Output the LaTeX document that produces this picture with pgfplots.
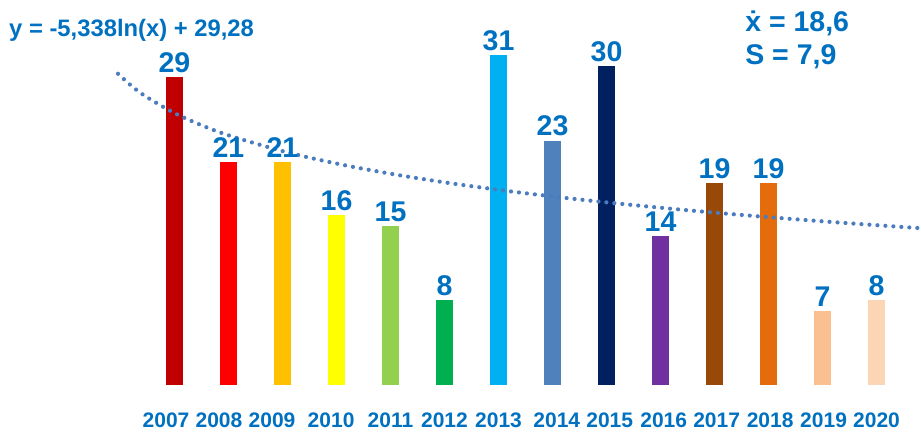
\documentclass[border=0pt]{standalone}
\usepackage{fontspec}
\setmainfont{Liberation Sans}
\usepackage{pgfplots}
\pgfplotsset{compat=1.18}

\definecolor{txtblue}{HTML}{0070C0}
\definecolor{trend}{HTML}{4A7CBE}
\definecolor{c07}{HTML}{C00000}
\definecolor{c08}{HTML}{FF0000}
\definecolor{c09}{HTML}{FFC000}
\definecolor{c10}{HTML}{FFFF00}
\definecolor{c11}{HTML}{92D050}
\definecolor{c12}{HTML}{00B050}
\definecolor{c13}{HTML}{00B0F0}
\definecolor{c14}{HTML}{4F81BD}
\definecolor{c15}{HTML}{002060}
\definecolor{c16}{HTML}{7030A0}
\definecolor{c17}{HTML}{984807}
\definecolor{c18}{HTML}{E46C0A}
\definecolor{c19}{HTML}{FAC090}
\definecolor{c20}{HTML}{FCD5B5}

\begin{document}
\begin{tikzpicture}
\path[use as bounding box] (0pt,-49pt) rectangle (921pt,385pt);
\begin{axis}[
    scale only axis,
    width=921pt, height=385pt,
    xmin=-3.2315, xmax=13.824,
    ymin=0, ymax=36.22,
    ybar, bar width=17pt, bar shift=0pt,
    axis line style={draw=none},
    major tick length=0pt,
    ytick=\empty,
    xtick={-0.157,0.824,1.806,2.9,4,5,6,7.08,8.06,9.06,10.04,11.03,12.02,13},
    xticklabels={2007,2008,2009,2010,2011,2012,2013,2014,2015,2016,2017,2018,2019,2020},
    xticklabel style={font=\fontsize{21}{21}\selectfont\bfseries, text=txtblue,
        anchor=north, inner sep=0pt, yshift=-28pt},
    nodes near coords,
    every node near coord/.append style={font=\fontsize{28.5}{28.5}\selectfont\bfseries,
        text=txtblue, anchor=south, inner sep=0pt, yshift=4pt},
    /pgf/number format/assume math mode=true,
    clip=false,
]
\addplot[fill=c07, draw=none] coordinates {(0,29)};
\addplot[fill=c08, draw=none] coordinates {(1,21)};
\addplot[fill=c09, draw=none] coordinates {(2,21)};
\addplot[fill=c10, draw=none] coordinates {(3,16)};
\addplot[fill=c11, draw=none] coordinates {(4,15)};
\addplot[fill=c12, draw=none] coordinates {(5,8)};
\addplot[fill=c13, draw=none] coordinates {(6,31)};
\addplot[fill=c14, draw=none] coordinates {(7,23)};
\addplot[fill=c15, draw=none] coordinates {(8,30)};
\addplot[fill=c16, draw=none] coordinates {(9,14)};
\addplot[fill=c17, draw=none] coordinates {(10,19)};
\addplot[fill=c18, draw=none] coordinates {(11,19)};
\addplot[fill=c19, draw=none] coordinates {(12,7)};
\addplot[fill=c20, draw=none] coordinates {(13,8)};

% logarithmic trend line
\addplot[sharp plot, smooth, trend, line width=4.2pt, line cap=round,
    dash pattern=on 0pt off 8pt, nodes near coords={}, mark=none]
    coordinates {
    (-1.0463,29.280)(-0.7847,28.089)(-0.5231,27.116)(0,25.580)(0.5231,24.389)
    (1.0463,23.416)(2.0926,21.880)(3.1389,20.689)(4.1852,19.716)(5.2315,18.893)
    (6.2778,18.180)(7.3241,17.551)(8.3704,16.989)(9.4167,16.480)(10.463,16.016)
    (11.509,15.588)(12.556,15.193)(13.602,14.824)(13.822,14.750)
    };

\node[anchor=base west, inner sep=0pt, text=txtblue,
    font=\fontsize{23.8}{24}\selectfont\bfseries]
    at (rel axis cs:0.00977,0.9039) {y = -5,338ln(x) + 29,28};
\node[anchor=base west, inner sep=0pt, text=txtblue,
    font=\fontsize{28.5}{28}\selectfont\bfseries]
    at (rel axis cs:0.809,0.9169) {ẋ = 18,6};
\node[anchor=base west, inner sep=0pt, text=txtblue,
    font=\fontsize{28.5}{28}\selectfont\bfseries]
    at (rel axis cs:0.809,0.8312) {S = 7,9};
\end{axis}
\end{tikzpicture}
\end{document}
